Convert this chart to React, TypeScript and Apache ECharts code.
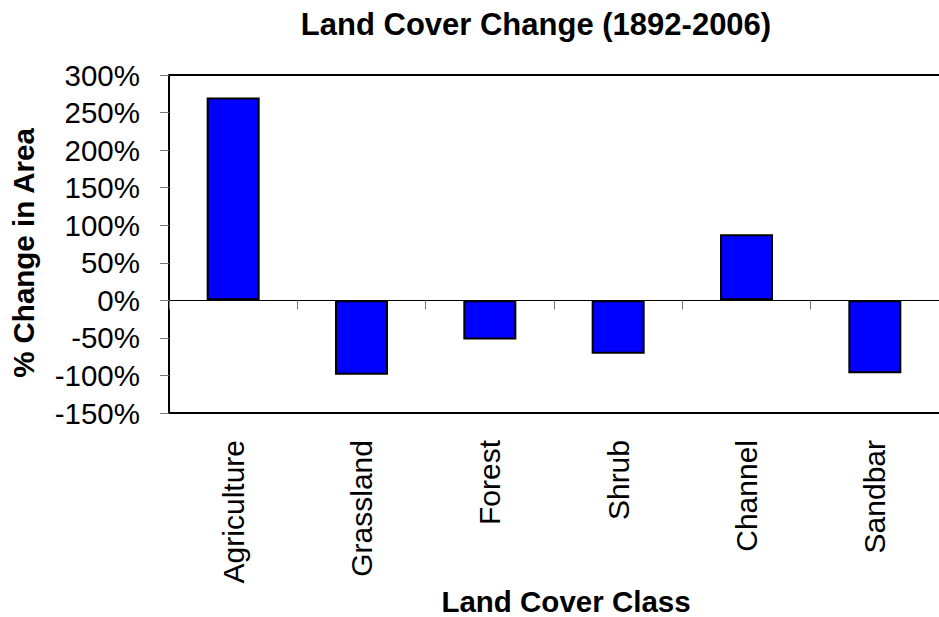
import React, { useEffect, useRef } from "react";
import * as echarts from "echarts";

const categories = ["Agriculture", "Grassland", "Forest", "Shrub", "Channel", "Sandbar"];
const changeValues = [270, -99, -52, -71, 88, -97];
const yTicks = { min: -150, max: 300, interval: 50 };
const titleText = "Land Cover Change (1892-2006)";
const xName = "Land Cover Class";
const yName = "% Change in Area";

export default function App() {
  const ref = useRef<HTMLDivElement>(null);
  useEffect(() => {
    const chart = echarts.init(ref.current!, null, { renderer: "svg" });
    const font = "'Liberation Sans', Arial, sans-serif";
    chart.setOption({
      animation: false,
      backgroundColor: "#fff",
      grid: {
        left: 169,
        right: 0,
        top: 75,
        bottom: 204,
        show: false,
      },
      graphic: [
        {
          type: "text",
          x: 536,
          y: 24,
          style: {
            text: titleText,
            font: `bold 31px ${font}`,
            fill: "#000",
            textAlign: "center",
            textVerticalAlign: "middle",
          },
        },
        {
          type: "text",
          x: 566,
          y: 601,
          style: {
            text: xName,
            font: `bold 29.5px ${font}`,
            fill: "#000",
            textAlign: "center",
            textVerticalAlign: "middle",
          },
        },
        {
          type: "text",
          x: 23,
          y: 253,
          rotation: Math.PI / 2,
          style: {
            text: yName,
            font: `bold 29.5px ${font}`,
            fill: "#000",
            textAlign: "center",
            textVerticalAlign: "middle",
          },
        },
      ],
      xAxis: [
        {
          type: "category",
          data: categories,
          position: "bottom",
          axisLine: { show: true, onZero: false, lineStyle: { color: "#000", width: 2 } },
          axisTick: { show: false },
          axisLabel: {
            rotate: 90,
            margin: 27,
            fontSize: 30,
            fontFamily: font,
            color: "#000",
          },
        },
        {
          type: "category",
          data: categories,
          position: "bottom",
          axisLine: { show: true, onZero: true, lineStyle: { color: "#000", width: 1 } },
          axisTick: { show: true, alignWithLabel: false, length: 9, inside: false, lineStyle: { color: "#777", width: 1 } },
          axisLabel: { show: false },
        },
        {
          type: "category",
          data: categories,
          position: "top",
          axisLine: { show: true, onZero: false, lineStyle: { color: "#000", width: 2 } },
          axisTick: { show: false },
          axisLabel: { show: false },
        },
      ],
      yAxis: {
        type: "value",
        min: yTicks.min,
        max: yTicks.max,
        interval: yTicks.interval,
        splitLine: { show: false },
        axisLine: { show: true, lineStyle: { color: "#000", width: 2 } },
        axisTick: { show: true, length: 9, lineStyle: { color: "#777", width: 1 } },
        axisLabel: {
          formatter: "{value}%",
          margin: 29,
          fontSize: 29.5,
          fontFamily: font,
          color: "#000",
        },
      },
      series: [
        {
          type: "bar",
          data: changeValues,
          xAxisIndex: 0,
          barWidth: 53,
          itemStyle: { color: "#0000FF", borderColor: "#000", borderWidth: 2 },
        },
      ],
    });
    return () => chart.dispose();
  }, []);
  return <div ref={ref} style={{ width: 939, height: 617, position: "absolute", left: 0, top: 0 }} />;
}
